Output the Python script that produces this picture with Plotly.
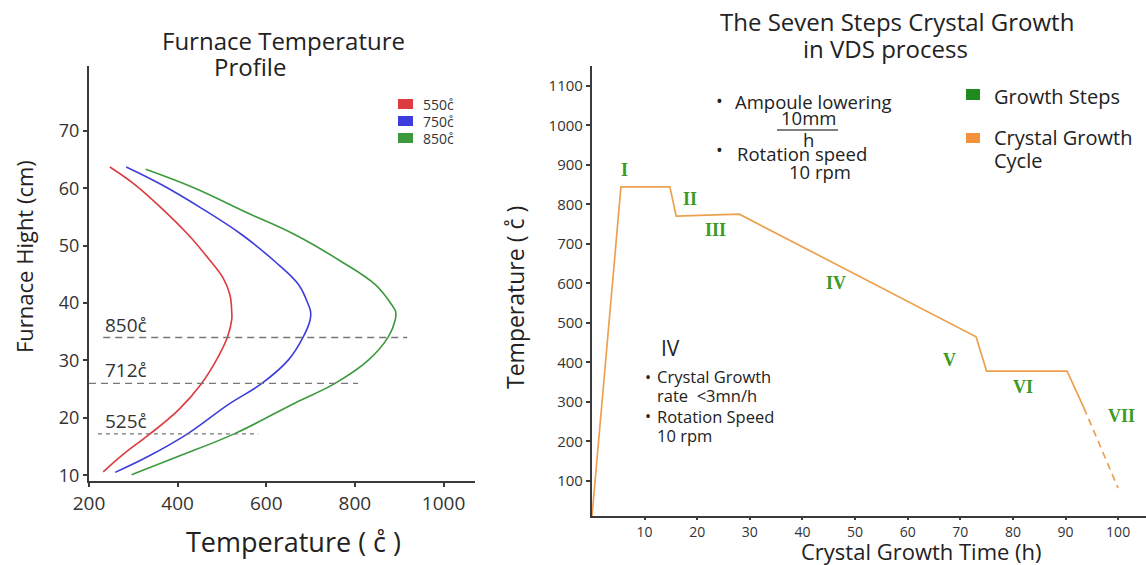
import plotly.graph_objects as go

W, H = 1146, 565

# ---------------- Left chart: Furnace temperature profile ----------------
red_temp = [232, 281, 334, 402, 454, 492, 513, 522, 522, 518, 503, 469, 424, 364, 304, 247]
red_height = [10.6, 13.9, 17.0, 21.4, 26.0, 30.7, 34.2, 37.1, 38.5, 41.4, 44.3, 47.8, 51.9, 56.5, 60.6, 63.7]
blue_temp = [259, 334, 424, 514, 590, 650, 684, 699, 700, 695, 673, 620, 545, 454, 364, 284]
blue_height = [10.5, 13.3, 17.3, 22.3, 26.0, 30.1, 34.2, 37.1, 38.5, 39.7, 43.2, 47.2, 51.9, 56.5, 60.6, 63.7]
green_temp = [296, 402, 530, 665, 755, 831, 876, 891, 892, 883, 846, 770, 665, 552, 439, 328]
green_height = [10.1, 13.3, 17.3, 22.6, 26.0, 30.1, 34.2, 37.1, 38.5, 39.7, 43.2, 47.2, 51.9, 55.9, 60.0, 63.3]
series_names = ["550c\u030a", "750c\u030a", "850c\u030a"]

ref_heights = [34.0, 26.0, 17.2]
ref_start = [232, 200, 220]
ref_end = [918, 807, 582]
ref_labels = ["850c\u030a", "712c\u030a", "525c\u030a"]

left_xticks = [200, 400, 600, 800, 1000]
left_yticks = [10, 20, 30, 40, 50, 60, 70]

# ---------------- Right chart: Seven steps crystal growth ----------------
time_h = [0, 5.5, 14.8, 16.0, 28.0, 73.0, 75.0, 90.3, 93.5]
temp_c = [11, 844, 844, 770, 775, 465, 378, 378, 285]
cool_time = [93.5, 100]
cool_temp = [285, 82]

step_labels = ["I", "II", "III", "IV", "V", "VI", "VII"]
step_x = [6.1, 18.6, 23.5, 46.4, 67.9, 81.9, 100.6]
step_y = [887, 814, 735, 601, 406, 338, 264]

right_xticks = [10, 20, 30, 40, 50, 60, 70, 80, 90, 100]
right_yticks = [100, 200, 300, 400, 500, 600, 700, 800, 900, 1000, 1100]

RED, BLUE, GREEN = "#dc3b3f", "#3d3ddb", "#3c9a3c"
ORANGE = "#eda14f"
STEP_GREEN = "#3a9a22"
AX = "#3a3a3a"
FONT = "Open Sans"


def px(x):
    return x / W


def py(y):
    return 1 - y / H


fig = go.Figure()

for t, h, c, n in [(red_temp, red_height, RED, series_names[0]),
                   (blue_temp, blue_height, BLUE, series_names[1]),
                   (green_temp, green_height, GREEN, series_names[2])]:
    fig.add_trace(go.Scatter(x=t, y=h, mode="lines", name=n,
                             line=dict(color=c, width=1.6, shape="spline", smoothing=1.1),
                             xaxis="x", yaxis="y", showlegend=False))

for i, (hh, s, e) in enumerate(zip(ref_heights, ref_start, ref_end)):
    fig.add_trace(go.Scatter(x=[s, e], y=[hh, hh], mode="lines",
                             line=dict(color="#777777", width=1.3,
                                       dash="7px,5px" if i < 2 else "4px,4px"),
                             xaxis="x", yaxis="y", showlegend=False))
    fig.add_annotation(x=232, y=hh, xref="x", yref="y", text=ref_labels[i],
                       showarrow=False, xanchor="left", yanchor="bottom", yshift=-2,
                       font=dict(family=FONT, size=19, color="#333333"))

fig.add_trace(go.Scatter(x=time_h, y=temp_c, mode="lines",
                         line=dict(color=ORANGE, width=1.7),
                         xaxis="x2", yaxis="y2", showlegend=False))
fig.add_trace(go.Scatter(x=cool_time, y=cool_temp, mode="lines",
                         line=dict(color=ORANGE, width=1.7, dash="7px,5px"),
                         xaxis="x2", yaxis="y2", showlegend=False))

for lab, sx, sy in zip(step_labels, step_x, step_y):
    fig.add_annotation(x=sx, y=sy, xref="x2", yref="y2", text="<b>" + lab + "</b>",
                       showarrow=False,
                       font=dict(family="Liberation Serif", size=18, color=STEP_GREEN))


def txt(x, y, s, size, anchor="center", color="#222222", family=FONT, angle=0,
        yanchor="middle", pad=1):
    fig.add_annotation(x=px(x), y=py(y), xref="paper", yref="paper", text=s,
                       showarrow=False, xanchor=anchor, yanchor=yanchor, borderpad=pad,
                       textangle=angle, font=dict(family=family, size=size, color=color))


# ---------- titles ----------
txt(283, 40, "Furnace Temperature", 24)
txt(250, 66, "Profile", 24)
txt(897, 22, "The Seven Steps Crystal Growth", 24)
txt(886, 48, "in VDS process", 24)

txt(24, 257, "Furnace Hight (cm)", 22, angle=-90)
txt(293, 541, "Temperature ( c\u030a )", 27)
txt(515, 298, "Temperature ( c\u030a )", 23, angle=-90)
txt(921, 567, "Crystal Growth Time (h)", 22, yanchor="bottom", pad=0)

# ---------- left legend ----------
leg_y = [104, 121, 138]
for c, n, ly in zip([RED, BLUE, GREEN], series_names, leg_y):
    fig.add_shape(type="rect", xref="paper", yref="paper",
                  x0=px(398), x1=px(413), y0=py(ly + 5), y1=py(ly - 5),
                  fillcolor=c, line=dict(width=0))
    txt(421, ly, n, 14, anchor="left", color="#333333")

# ---------- right legend ----------
for c, y0, y1 in [("#1f8a1f", 89, 100), ("#f3923a", 133, 143)]:
    fig.add_shape(type="rect", xref="paper", yref="paper",
                  x0=px(966), x1=px(980), y0=py(y1), y1=py(y0),
                  fillcolor=c, line=dict(width=0))
txt(992, 97, "Growth Steps", 20, anchor="left")
txt(992, 137, "Crystal Growth", 20, anchor="left")
txt(992, 160, "Cycle", 20, anchor="left")

# ---------- process notes ----------
txt(719, 101, "\u2022", 18)
txt(733, 102, "Ampoule lowering", 18.5, anchor="left")
txt(808, 118, "10mm", 18.5)
fig.add_shape(type="line", xref="paper", yref="paper", x0=px(777), x1=px(838),
              y0=py(130), y1=py(130), line=dict(color="#555555", width=1.3))
txt(808, 140, "h", 18.5)
txt(719, 150, "\u2022", 18)
txt(735, 153, "Rotation speed", 18.5, anchor="left")
txt(820, 172, "10 rpm", 18.5)

txt(670, 348, "IV", 21)
txt(648, 377, "\u2022", 16)
txt(655, 377, "Crystal Growth", 16.5, anchor="left")
txt(655, 395, "rate  <3mn/h", 16.5, anchor="left")
txt(648, 416, "\u2022", 16)
txt(655, 417, "Rotation Speed", 16.5, anchor="left")
txt(655, 435, "10 rpm", 16.5, anchor="left")

axis_common = dict(showgrid=False, zeroline=False, showline=True, linecolor=AX,
                   linewidth=2.2, ticks="outside", tickcolor=AX, tickwidth=1.5,
                   automargin=False)

fig.update_layout(
    width=W, height=H, margin=dict(l=0, r=0, t=0, b=0, autoexpand=False),
    paper_bgcolor="white", plot_bgcolor="white", showlegend=False,
    xaxis=dict(domain=[px(89), px(475)], range=[199.9, 1071], anchor="y", ticklen=4,
               tickvals=left_xticks, tickfont=dict(family=FONT, size=19, color="#333333"),
               **axis_common),
    yaxis=dict(domain=[py(481), py(66)], range=[9.0, 81.3], anchor="x", ticklen=4,
               tickvals=left_yticks, tickfont=dict(family=FONT, size=18, color="#333333"),
               **axis_common),
    xaxis2=dict(domain=[px(592), 1.0], range=[0, 105.3], anchor="y2", ticklen=2,
                tickvals=right_xticks, tickfont=dict(family=FONT, size=14, color="#333333"),
                **axis_common),
    yaxis2=dict(domain=[py(516), py(66)], range=[11.4, 1150], anchor="x2", ticklen=4,
                tickvals=right_yticks, tickfont=dict(family=FONT, size=15, color="#333333"),
                **axis_common),
)

fig.write_html("out.html", config={"displayModeBar": False},
               post_script="document.body.style.margin='0';document.body.style.overflow='hidden';")
